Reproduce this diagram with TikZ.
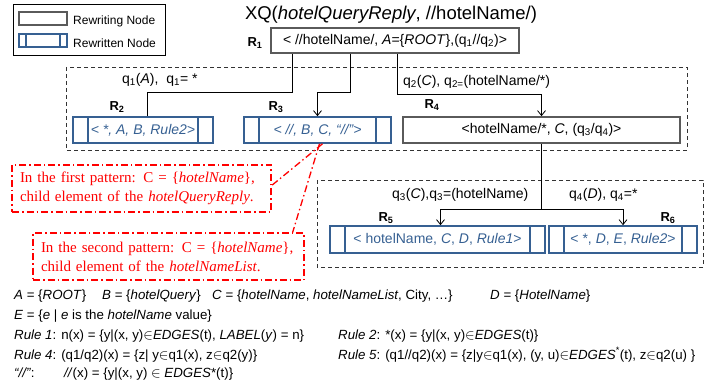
\documentclass[tikz,border=0pt]{standalone}
\usepackage{fontspec}
\setmainfont{Liberation Sans}
\newfontfamily\notefont{Liberation Serif}
\usetikzlibrary{arrows.meta}

\definecolor{rwblue}{RGB}{54,96,146}
\definecolor{rwgray}{RGB}{90,90,90}

\begin{document}
\begin{tikzpicture}[x = 1pt, y = -1pt, > = {Straight Barb[length = 5pt, width = 8pt]},
	rewriting/.style = {draw = rwgray, line width = 1.6pt, minimum height = 26pt, inner sep = 0pt,
		font = \fontsize{14}{16}\selectfont},
	rewritten/.style = {draw = rwblue, line width = 1.6pt, minimum height = 26pt, inner sep = 0pt,
		text = rwblue, font = \fontsize{14}{16}\selectfont,
		path picture = {\draw [rwblue, line width = 1.6pt]
			([xshift = #1]path picture bounding box.north west) -- ([xshift = #1]path picture bounding box.south west)
			([xshift = -#1]path picture bounding box.north east) -- ([xshift = -#1]path picture bounding box.south east);}},
	rewritten/.default = 15pt,
	rname/.style = {inner sep = 0pt, font = \fontsize{13}{15}\selectfont\bfseries},
	edgelabel/.style = {anchor = west, inner sep = 0pt, font = \fontsize{14}{16}\selectfont},
	group/.style = {draw = black!80, line width = 0.9pt, dash pattern = on 4pt off 3pt},
	note/.style = {draw = red, line width = 1.3pt, dash pattern = on 7pt off 3pt on 1.5pt off 3pt,
		text = red, align = left, inner xsep = 8pt, inner ysep = 0pt, font = \notefont\fontsize{15}{19}\selectfont},
	pointer/.style = {red, line width = 1.3pt, dash pattern = on 7pt off 3pt on 1.5pt off 3pt},
	defline/.style = {anchor = base west, inner sep = 0pt, font = \fontsize{13.3}{15}\selectfont}]

	\useasboundingbox (0, 0) rectangle (727, 387);

	% Legend

	\draw [black, line width = 0.9pt] (13, 4) rectangle (165, 55);
	\node [rewriting, minimum width = 48pt, minimum height = 13pt] (keyrw) at (43, 18.5) {};
	\node [rewritten = 7pt, minimum width = 48pt, minimum height = 13pt] (keyrt) at (43, 40.5) {};
	\node [anchor = west, inner sep = 0pt, font = \fontsize{12}{14}\selectfont] (keyrwtext) at (73, 21) {Rewriting Node};
	\node [anchor = west, inner sep = 0pt, font = \fontsize{12}{14}\selectfont] (keyrttext) at (73, 43) {Rewritten Node};

	% Title

	\node [inner sep = 0pt, font = \fontsize{18.5}{21}\selectfont] (title) at (391, 15)
		{XQ(\textit{hotelQueryReply}, //hotelName/)};

	% Groups

	\draw [group] (66, 67) rectangle (687, 150);
	\draw [group] (317, 180) rectangle (703, 267);

	% Nodes

	\node [rewriting, minimum width = 248pt, minimum height = 25pt] (r1) at (395, 40.5)
		{< //hotelName/, \textit{A}=\{\textit{ROOT}\},(q\textsubscript{1}//q\textsubscript{2})>};
	\node [rewritten, minimum width = 140pt] (r2) at (143, 130) {\textit{< *, A, B, Rule2>}};
	\node [rewritten, minimum width = 147pt] (r3) at (317.5, 130) {\textit{< //, B, C, “//”>}};
	\node [rewriting, minimum width = 277pt] (r4) at (541.5, 130) {<hotelName/*, \textit{C}, (q\textsubscript{3}/q\textsubscript{4})>};
	\node [rewritten, minimum width = 215pt, minimum height = 27pt] (r5) at (437.5, 239.5) {< hotelName, \textit{C}, \textit{D}, \textit{Rule1}>};
	\node [rewritten, minimum width = 148pt, minimum height = 27pt] (r6) at (623, 239.5) {< *, \textit{D}, \textit{E}, \textit{Rule2}>};

	\node [rname] (r1name) at (255, 43) {R\textsubscript{1}};
	\node [rname] (r2name) at (117, 107) {R\textsubscript{2}};
	\node [rname] (r3name) at (276, 107) {R\textsubscript{3}};
	\node [rname] (r4name) at (432, 105) {R\textsubscript{4}};
	\node [rname] (r5name) at (386, 218) {R\textsubscript{5}};
	\node [rname] (r6name) at (668, 218) {R\textsubscript{6}};

	% Connectors

	\draw [line width = 0.8pt] ([xshift = -103pt]r1.south) -- ++(0, 39) -| ([xshift = 4pt]r2.north);
	\draw [line width = 0.8pt, ->] ([xshift = -45pt]r1.south) -- ++(0, 39) -| (r3.north);
	\draw [line width = 0.8pt, ->] ([xshift = 2pt]r1.south) -- ++(0, 41) -| (r4.north);
	\draw [line width = 0.8pt] (r4.south) -- ++(0, 66) coordinate (split);
	\draw [line width = 0.8pt, ->] (split) -| ([xshift = 3pt]r5.north);
	\draw [line width = 0.8pt, ->] (split) -| (r6.north);

	\node [edgelabel] (q1label) at (122, 80) {q\textsubscript{1}(\textit{A}),\ \ q\textsubscript{1}= *};
	\node [edgelabel] (q2label) at (403, 82) {q\textsubscript{2}(\textit{C}), q\textsubscript{2=}(hotelName/*)};
	\node [edgelabel] (q3label) at (392, 195) {q\textsubscript{3}(\textit{C}),q\textsubscript{3}=(hotelName)};
	\node [edgelabel] (q4label) at (569, 195) {q\textsubscript{4}(\textit{D}), q\textsubscript{4}=*};

	% Notes

	\node [note, text width = 243pt, minimum height = 47pt] (note1) at (141.5, 188.5)
		{In the first pattern: C = \{\textit{hotelName}\},\\child element of the \textit{hotelQueryReply}.};
	\node [note, text width = 255pt, minimum height = 47pt] (note2) at (168.5, 256.5)
		{In the second pattern: C = \{\textit{hotelName}\},\\child element of the \textit{hotelNameList}.};

	\draw [pointer] ([xshift = 5pt]r3.south) -- ([yshift = 3pt]note1.east);
	\draw [pointer] ([xshift = 2pt]r3.south) -- ([xshift = -12pt]note2.north east);

	% Definitions

	\node [defline] (defa) at (14, 299) {\textit{A} = \{\textit{ROOT}\}};
	\node [defline] (defb) at (102, 299) {\textit{B} = \{\textit{hotelQuery}\}};
	\node [defline] (defc) at (212, 299) {\textit{C} = \{\textit{hotelName}, \textit{hotelNameList}, City, …\}};
	\node [defline] (defd) at (490, 299) {\textit{D} = \{\textit{HotelName}\}};
	\node [defline] (defe) at (14, 319) {\textit{E} = \{\textit{e} | \textit{e} is the \textit{hotelName} value\}};
	\node [defline] (rule1) at (14, 339) {\textit{Rule 1}: n(x) = \{y|(x, y)$\in$\textit{EDGES}(t), \textit{LABEL}(\textit{y}) = n\}};
	\node [defline] (rule2) at (338, 339) {\textit{Rule 2}: *(x) = \{y|(x, y)$\in$\textit{EDGES}(t)\}};
	\node [defline] (rule4) at (14, 359) {\textit{Rule 4}: (q1/q2)(x) = \{z| y$\in$q1(x), z$\in$q2(y)\}};
	\node [defline] (rule5) at (338, 359) {\textit{Rule 5}: (q1//q2)(x) = \{z|y$\in$q1(x), (y, u)$\in$\textit{EDGES}\textsuperscript{*}(t), z$\in$q2(u) \}};
	\node [defline] (rulesl) at (14, 377) {\textit{“//”}:};
	\node [defline] (rulesldef) at (64, 377) {\textit{//}(x) = \{y|(x, y) $\in$ \textit{EDGES}*(t)\}};

\end{tikzpicture}
\end{document}
